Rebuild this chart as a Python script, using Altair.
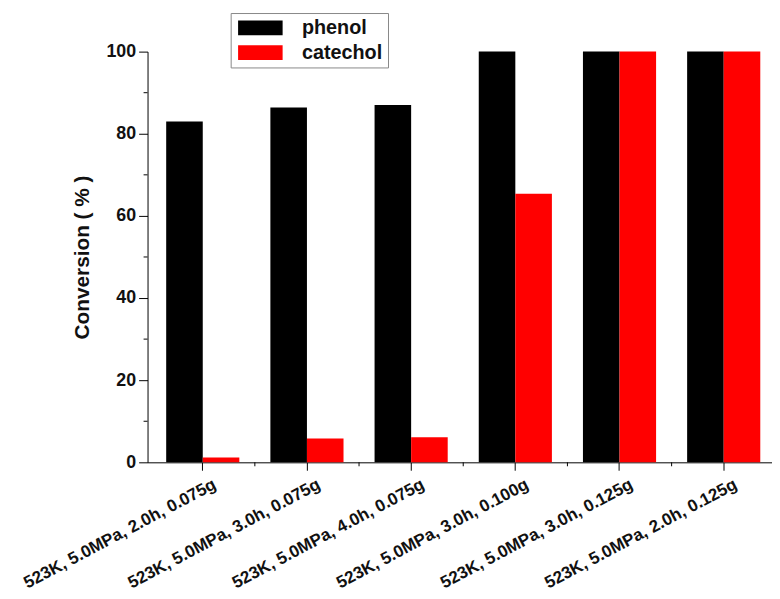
import altair as alt
import pandas as pd

categories = [
    "523K, 5.0MPa, 2.0h, 0.075g",
    "523K, 5.0MPa, 3.0h, 0.075g",
    "523K, 5.0MPa, 4.0h, 0.075g",
    "523K, 5.0MPa, 3.0h, 0.100g",
    "523K, 5.0MPa, 3.0h, 0.125g",
    "523K, 5.0MPa, 2.0h, 0.125g",
]
phenol = [83.0, 86.4, 87.0, 100, 100, 100]
catechol = [1.2, 5.8, 6.1, 65.4, 100, 100]
series = ["phenol", "catechol"]
colors = ["#000000", "#ff0000"]
y_major = [0, 20, 40, 60, 80, 100]
y_minor = [10, 30, 50, 70, 90]

rows = []
for c, p, k in zip(categories, phenol, catechol):
    rows.append({"cat": c, "series": "phenol", "value": p})
    rows.append({"cat": c, "series": "catechol", "value": k})
df = pd.DataFrame(rows)

W, H = 631, 415
FONT = "Liberation Sans"

xscale = alt.Scale(domain=categories, range=[0, 638], paddingInner=0, paddingOuter=0.03)
yscale = alt.Scale(domain=[0, 100], nice=False, zero=True)

xaxis = alt.Axis(title=None, labelAngle=-28, labelAlign="right", labelBaseline="top",
                 tickSize=8, labelPadding=5, labelOffset=8, labelLimit=600, labelFontSize=17.2)
yaxis = alt.Axis(values=y_major, title="Conversion ( % )", tickSize=9, labelPadding=3,
                 titlePadding=14, titleFontSize=21)

bars = alt.Chart(df).mark_bar().encode(
    x=alt.X("cat:N", scale=xscale, sort=categories, axis=xaxis),
    xOffset=alt.XOffset("series:N", sort=series,
                        scale=alt.Scale(domain=series, paddingOuter=0.4245, paddingInner=0)),
    y=alt.Y("value:Q", scale=yscale, axis=yaxis),
    color=alt.Color("series:N", sort=series, scale=alt.Scale(domain=series, range=colors),
                    legend=alt.Legend(orient="none", legendX=84, legendY=-39, title=None,
                                      symbolType="M-1,-1L5,-1L5,1L-1,1Z",
                                      symbolSize=225, symbolStrokeWidth=0,
                                      labelFont=FONT, labelFontSize=20, labelFontWeight="bold",
                                      labelColor="#111111", labelOffset=47, padding=5,
                                      strokeColor="#888888", fillColor="white", rowPadding=5)),
)

minor_y = alt.Chart(pd.DataFrame({"value": y_minor})).mark_rule(color="black").encode(
    y=alt.Y("value:Q", scale=yscale, axis=yaxis),
    x=alt.value(-4), x2=alt.value(0),
)

minor_x = alt.Chart(pd.DataFrame({"cat": categories[1:]})).mark_rule(color="black").encode(
    x=alt.X("cat:N", scale=xscale, sort=categories, bandPosition=0, axis=xaxis),
    y=alt.value(H), y2=alt.value(H + 4),
)

chart = alt.layer(bars, minor_y, minor_x).properties(
    width=W, height=H,
    autosize=alt.AutoSizeParams(type="none"),
    padding={"left": 141, "top": 41, "right": 0, "bottom": 132},
).configure_view(stroke=None).configure_axis(
    domainColor="black", tickColor="black", labelFont=FONT, labelFontWeight="bold",
    labelFontSize=18, labelColor="#111111", titleFont=FONT, titleFontWeight="bold",
    titleColor="#111111", grid=False,
)

chart.save("out.html", embed_options={"renderer": "svg", "actions": False})
